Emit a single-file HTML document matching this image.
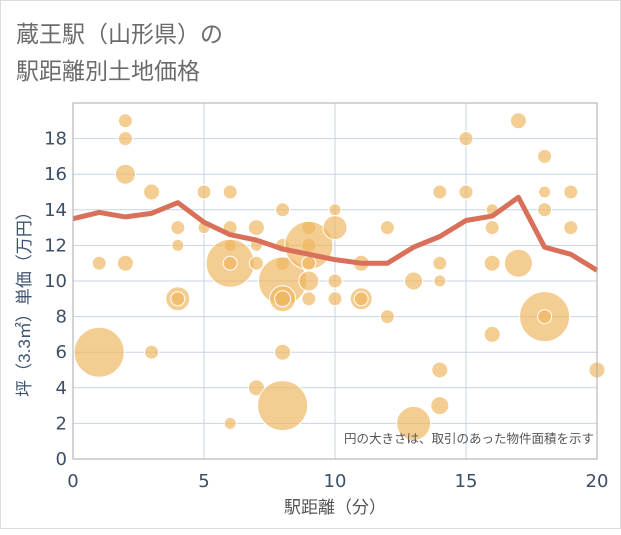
<!DOCTYPE html>
<html><head><meta charset="utf-8"><style>
body{margin:0;background:#fff;}
svg text{font-family:"Liberation Sans","Noto Sans CJK JP",sans-serif;}
svg text.tk{font-family:"DejaVu Sans",sans-serif;}
</style></head><body>
<svg id="chart" width="621" height="530" xmlns="http://www.w3.org/2000/svg">
<rect x="0.5" y="0.5" width="620" height="528" fill="#fff" stroke="#ddd"/>
<text x="16" y="42" font-size="23" fill="#6b6b6b">蔵王駅（山形県）の</text>
<text x="16" y="79" font-size="23" fill="#6b6b6b">駅距離別土地価格</text>
<g id="grid"></g>
<g id="bubbles"></g>
<g id="line"></g>
<rect x="73" y="103" width="524" height="356" fill="none" stroke="#aaa"/>
<g id="ticks"></g>
<text x="594" y="443" font-size="12.5" fill="#555" text-anchor="end">円の大きさは、取引のあった物件面積を示す</text>
<text x="335" y="513" font-size="17" fill="#555" text-anchor="middle">駅距離（分）</text>
<text transform="translate(30,300) rotate(-90)" font-size="17" fill="#3d5370" text-anchor="middle">坪（3.3㎡）単価（万円）</text>
</svg>
<script>
const xTicks=[0,5,10,15,20];
const yTicks=[0,2,4,6,8,10,12,14,16,18];
const lineX=[0,1,2,3,4,5,6,7,8,9,10,11,12,13,14,15,16,17,18,19,20];
const lineY=[13.5,13.85,13.6,13.8,14.4,13.3,12.6,12.3,11.8,11.5,11.2,11.0,11.0,11.9,12.5,13.4,13.65,14.7,11.9,11.5,10.6];
const bubX=[1,1,2,2,2,2,3,3,4,4,4,4,5,5,6,6,6,6,6,6,7,7,7,7,8,8,8,8,8,8,8,8,9,9,9,9,9,9,10,10,10,10,11,11,11,12,12,13,13,14,14,14,14,14,15,15,16,16,16,16,17,17,18,18,18,18,18,19,19,20];
const bubY=[6,11,19,18,16,11,15,6,13,12,9,9,15,13,15,13,12,11,11,2,13,12,11,4,14,12,11,10,9,9,6,3,13,12,12,11,10,9,14,13,10,9,11,9,9,13,8,10,2,15,11,10,5,3,18,15,14,13,11,7,19,11,17,15,14,8,8,15,13,5];
const bubR=[25,7,7,7,10,8,8,7,7,6,12,7,7,6,7,7,6,24,7,6,8,6,7,8,7,7,7,24,13,8,8,25,7,7,24,7,10,7,6,12,7,7,8,11,7,7,7,9,17,7,7,6,8,9,7,7,6,7,8,8,8,14,7,6,7,25,7,7,7,8];
const X0=73,X1=597,Y0=459,Y1=103;
const sx=v=>X0+(v-0)/(20-0)*(X1-X0);
const sy=v=>Y0-(v-0)/(20-0)*(Y0-Y1);
const NS="http://www.w3.org/2000/svg";
function mk(t,a,p){const e=document.createElementNS(NS,t);for(const k in a)e.setAttribute(k,a[k]);p.appendChild(e);return e;}
const grid=document.getElementById('grid'),ticks=document.getElementById('ticks');
yTicks.forEach(v=>{const l=mk('line',{x1:X0,x2:X1,y1:sy(v),y2:sy(v),stroke:'#c8d4e3','stroke-width':1},grid);


const t=mk('text',{x:67,y:sy(v)+6,'font-size':18,fill:'#3d4f66','text-anchor':'end','class':'tk'},ticks);t.textContent=v;

});
xTicks.forEach(v=>{const l=mk('line',{x1:sx(v),x2:sx(v),y1:Y1,y2:Y0,stroke:'#c8d4e3','stroke-width':1},grid);


const t=mk('text',{x:sx(v),y:487,'font-size':18,fill:'#3d4f66','text-anchor':'middle','class':'tk'},ticks);t.textContent=v;

});
const bg=document.getElementById('bubbles');
bubX.forEach((x,i)=>{const c=mk('circle',{cx:sx(x),cy:sy(bubY[i]),r:bubR[i],fill:'#efb65e','fill-opacity':0.68,stroke:'#fff','stroke-width':1},bg);

});
const lg=document.getElementById('line');
const p=mk('polyline',{points:lineX.map((x,i)=>sx(x)+','+sy(lineY[i])).join(' '),fill:'none',stroke:'#d9705a','stroke-width':5,'stroke-linejoin':'round'},lg);


</script>
</body></html>
